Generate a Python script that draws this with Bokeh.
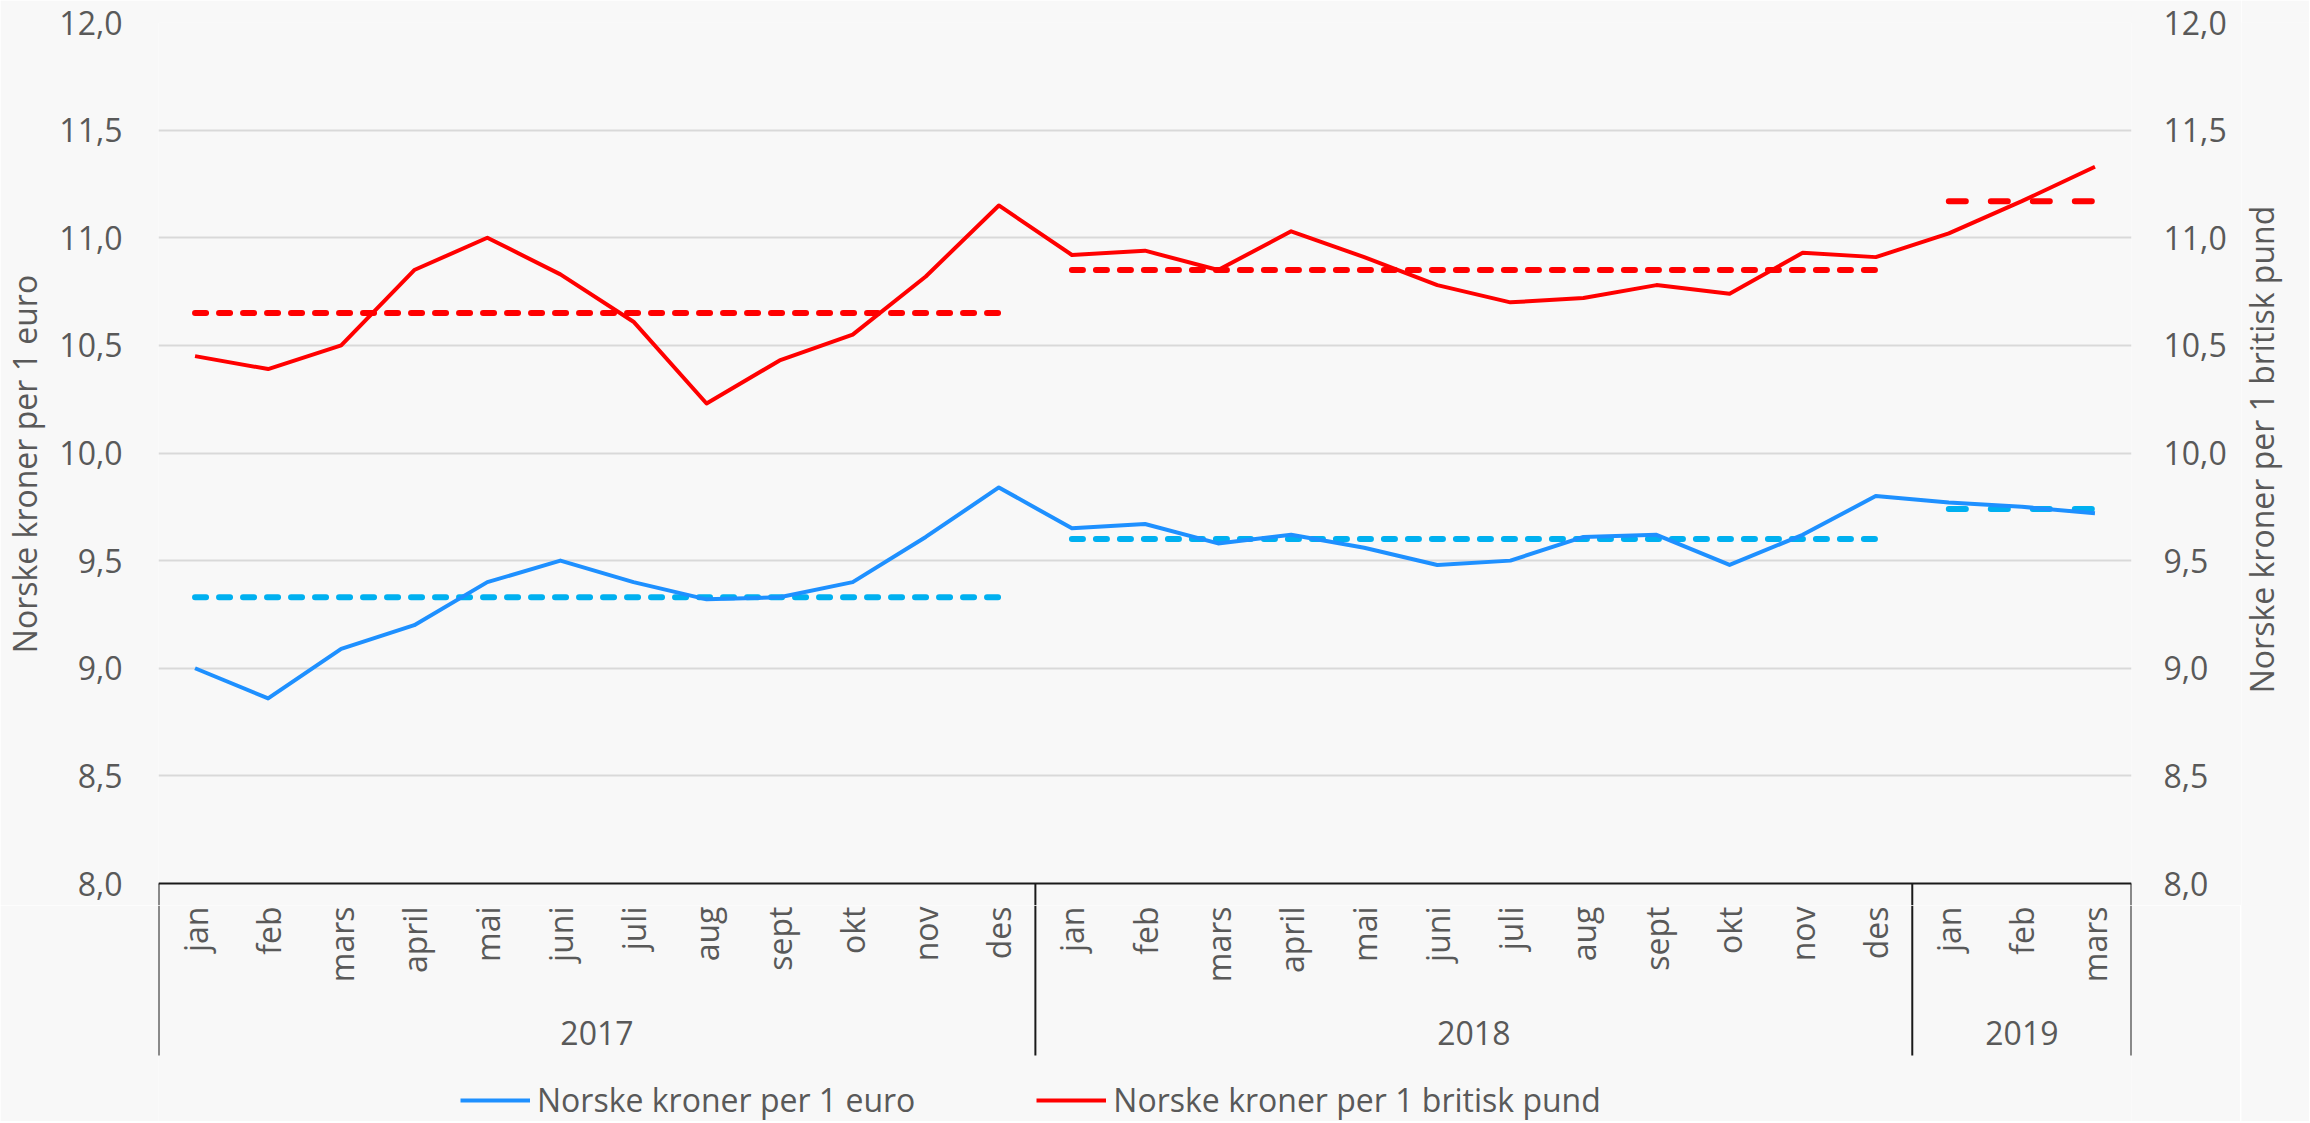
import numpy as np
from bokeh.plotting import figure
from bokeh.models import (Range1d, LinearAxis, FixedTicker, CustomJSTickFormatter,
                          Legend, LegendItem, ColumnDataSource)
from bokeh.layouts import column, row
from bokeh.embed import file_html
from bokeh.resources import INLINE
from bokeh.core.properties import value

# ---------------- data ----------------
months = ["jan", "feb", "mars", "april", "mai", "juni", "juli", "aug", "sept", "okt", "nov", "des"]
years = ["2017", "2018", "2019"]
year_lengths = [12, 12, 3]
month_labels = months + months + months[:3]

eur = [9.00, 8.86, 9.09, 9.20, 9.40, 9.50, 9.40, 9.32, 9.33, 9.40, 9.61, 9.84,
       9.65, 9.67, 9.58, 9.62, 9.56, 9.48, 9.50, 9.61, 9.62, 9.48, 9.62, 9.80,
       9.77, 9.75, 9.72]
gbp = [10.45, 10.39, 10.50, 10.85, 11.00, 10.83, 10.61, 10.23, 10.43, 10.55, 10.82, 11.15,
       10.92, 10.94, 10.85, 11.03, 10.91, 10.78, 10.70, 10.72, 10.78, 10.74, 10.93, 10.91,
       11.02, 11.17, 11.33]
eur_avg = [9.33, 9.60, 9.74]
gbp_avg = [10.65, 10.85, 11.17]
y_ticks = [8.0, 8.5, 9.0, 9.5, 10.0, 10.5, 11.0, 11.5, 12.0]

eur_name = "Norske kroner per 1 euro"
gbp_name = "Norske kroner per 1 britisk pund"

# ---------------- style ----------------
FONT = "Open Sans"
TXT = "#595959"
BG = "#f8f8f8"
BLUE = "#1e90ff"
BLUE_AVG = "#00b0f0"
RED = "#ff0000"
AXIS_COL = "#1a1a1a"
FRAME_W = 1973
LEFT_B = 157
RIGHT_B = 110
PLOT_H = 861          # pixels for 8..12
EXT = 22              # extra pixels below 8.0 inside the main frame
TITLE_W = 68
H2 = 216

n = len(month_labels)
xs = list(range(n))
x_range = Range1d(-0.5, n - 0.5)
y_min, y_max = y_ticks[0], y_ticks[-1]
y_low = y_min - EXT * (y_max - y_min) / PLOT_H
y_range = Range1d(y_low, y_max)

p = figure(frame_width=FRAME_W, frame_height=PLOT_H + EXT, x_range=x_range, y_range=y_range,
           output_backend="svg", toolbar_location=None,
           min_border_left=LEFT_B, min_border_right=RIGHT_B, min_border_top=22, min_border_bottom=0,
           x_axis_location=None, y_axis_location=None,
           background_fill_color=BG, border_fill_color=BG, outline_line_color=None)
p.extra_y_ranges = {"gbp": Range1d(y_low, y_max)}

fmt = CustomJSTickFormatter(code="return tick.toFixed(1).replace('.', ',');")

def style_axis(ax, standoff):
    ax.ticker = FixedTicker(ticks=y_ticks)
    ax.formatter = fmt
    ax.major_tick_out = 0
    ax.major_tick_in = 0
    ax.minor_tick_out = 0
    ax.minor_tick_in = 0
    ax.axis_line_color = None
    ax.major_label_standoff = standoff
    ax.major_label_text_font = FONT
    ax.major_label_text_font_size = "32px"
    ax.major_label_text_color = TXT
    ax.axis_label_text_font = FONT
    ax.axis_label_text_font_size = "32px"
    ax.axis_label_text_font_style = "normal"
    ax.axis_label_text_color = TXT

left_ax = LinearAxis(axis_label=eur_name)
style_axis(left_ax, 36)
left_ax.axis_label_standoff = 10
p.add_layout(left_ax, "left")

right_ax = LinearAxis(y_range_name="gbp")
style_axis(right_ax, 32)
p.add_layout(right_ax, "right")

p.ygrid.ticker = FixedTicker(ticks=y_ticks[1:])
p.ygrid.grid_line_color = "#d9d9d9"
p.ygrid.grid_line_width = 2
p.xgrid.visible = False

# category group boundaries
bounds = [-0.5]
centers = []
for ln in year_lengths:
    centers.append(bounds[-1] + ln / 2)
    bounds.append(bounds[-1] + ln)

# category axis line + top part of separators (inside main frame, below 8.0)
p.segment(x0=[bounds[0]], x1=[bounds[-1]], y0=[y_min], y1=[y_min], line_color=AXIS_COL, line_width=2)
p.segment(x0=bounds, x1=bounds, y0=[y_min] * len(bounds), y1=[y_low] * len(bounds),
          line_color=AXIS_COL, line_width=2)

# yearly averages (dashed)
start = 0
for i, ln in enumerate(year_lengths):
    seg_x = [start, start + ln - 1]
    dash = "17 25" if ln < 12 else "11 13"
    p.line(seg_x, [eur_avg[i]] * 2, line_color=BLUE_AVG, line_width=6,
           line_dash=dash, line_cap="round")
    p.line(seg_x, [gbp_avg[i]] * 2, line_color=RED, line_width=6,
           line_dash=dash, line_cap="round", y_range_name="gbp")
    start += ln

src = ColumnDataSource(dict(x=xs, eur=eur, gbp=gbp))
p.line("x", "eur", source=src, line_color=BLUE, line_width=4, line_join="round")
p.line("x", "gbp", source=src, line_color=RED, line_width=4, line_join="round",
       y_range_name="gbp")

# ---------------- right axis title (narrow full-height figure) ----------------
H3 = PLOT_H + EXT + H2
p3 = figure(frame_width=TITLE_W, frame_height=H3, x_range=Range1d(0, TITLE_W), y_range=Range1d(-H3, 0),
            output_backend="svg", toolbar_location=None,
            min_border_left=0, min_border_right=0, min_border_top=22, min_border_bottom=0,
            x_axis_location=None, y_axis_location=None,
            background_fill_color=BG, border_fill_color=BG, outline_line_color=None)
p3.grid.visible = False
p3.text(x=[20], y=[-427], text=[gbp_name], angle=np.pi / 2,
        text_align="center", text_baseline="middle", text_font=value(FONT),
        text_font_size="32px", text_color=TXT)

# ---------------- category axis figure ----------------
p2 = figure(frame_width=FRAME_W, frame_height=H2, x_range=x_range, y_range=Range1d(-H2, 0),
            output_backend="svg", toolbar_location=None,
            min_border_left=LEFT_B, min_border_right=RIGHT_B, min_border_top=0, min_border_bottom=0,
            x_axis_location=None, y_axis_location=None,
            background_fill_color=BG, border_fill_color=BG, outline_line_color=None)
p2.grid.visible = False

p2.text(x=xs, y=[-1] * n, text=month_labels, angle=np.pi / 2, text_align="right",
        text_baseline="middle", text_font=value(FONT), text_font_size="32px", text_color=TXT)
p2.text(x=centers, y=[-127] * len(years), text=years, text_align="center",
        text_baseline="middle", text_font=value(FONT), text_font_size="32px", text_color=TXT)
p2.segment(x0=bounds, x1=bounds, y0=[0] * len(bounds), y1=[-150] * len(bounds),
           line_color=AXIS_COL, line_width=2)

# legend proxies (single NaN point: nothing drawn in the frame)
r_eur = p2.line(x=[np.nan], y=[np.nan], line_color=BLUE, line_width=4)
r_gbp = p2.line(x=[np.nan], y=[np.nan], line_color=RED, line_width=4)
legend = Legend(items=[LegendItem(label=eur_name, renderers=[r_eur]),
                       LegendItem(label=gbp_name, renderers=[r_gbp])],
                orientation="horizontal", location=(302, 0),
                label_text_font=FONT, label_text_font_size="32px", label_text_color=TXT,
                glyph_width=70, glyph_height=20, label_standoff=7, spacing=121,
                padding=0, margin=0, border_line_color=None, background_fill_alpha=0)
p2.add_layout(legend)

layout = row(column(p, p2, spacing=0), p3, spacing=0)
open("out.html", "w").write(file_html(layout, INLINE))
